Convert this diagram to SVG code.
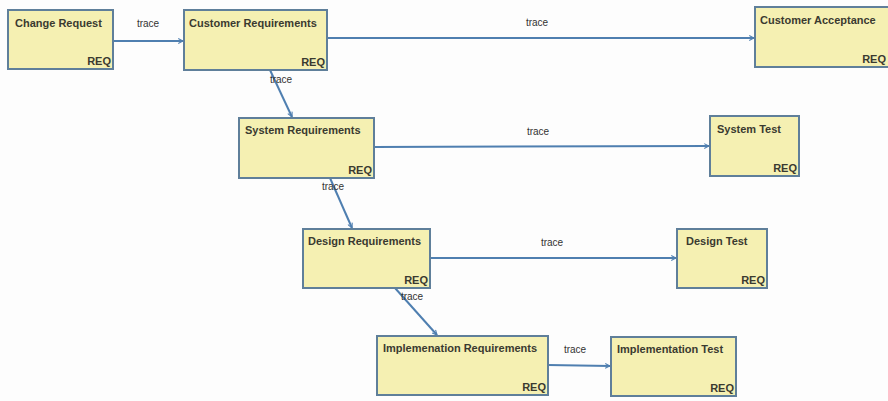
<svg xmlns="http://www.w3.org/2000/svg" width="888" height="401" viewBox="0 0 888 401">
<defs>
<style>
.box{fill:#f5f0b2;stroke:#5f7f9a;stroke-width:2}
.name{font-family:"Liberation Sans",Arial,sans-serif;font-size:11px;font-weight:bold;fill:#3a3a30}
.req{font-family:"Liberation Sans",Arial,sans-serif;font-size:11px;font-weight:bold;fill:#3a3a30;text-anchor:end}
.lbl{font-family:"Liberation Sans",Arial,sans-serif;font-size:10px;fill:#333;text-anchor:middle}
.con{fill:none;stroke:#4f7fb0;stroke-width:2;marker-end:url(#arr)}
</style>
<marker id="arr" viewBox="0 0 10 10" refX="9" refY="5" markerWidth="6" markerHeight="6" markerUnits="userSpaceOnUse" orient="auto">
<path d="M1,1 L9,5 L1,9" fill="none" stroke="#4f7fb0" stroke-width="1.8"/>
</marker>
</defs>
<rect width="888" height="401" fill="#fdfdfd"/>
<g id="connectors">
<line class="con" x1="113" y1="41" x2="183" y2="41"/>
<line class="con" x1="327" y1="38" x2="754" y2="38"/>
<line class="con" x1="270" y1="70" x2="292" y2="117"/>
<line class="con" x1="374" y1="147" x2="709" y2="146"/>
<line class="con" x1="330" y1="178" x2="352" y2="228"/>
<line class="con" x1="430" y1="258" x2="676" y2="258"/>
<line class="con" x1="395" y1="288" x2="437" y2="335"/>
<line class="con" x1="548" y1="365" x2="610" y2="366"/>
<text class="lbl" x="148" y="27">trace</text>
<text class="lbl" x="537" y="26">trace</text>
<text class="lbl" x="281" y="83">trace</text>
<text class="lbl" x="538" y="135">trace</text>
<text class="lbl" x="333" y="190">trace</text>
<text class="lbl" x="552" y="246">trace</text>
<text class="lbl" x="412" y="300">trace</text>
<text class="lbl" x="575" y="353">trace</text>
</g>
<g id="change-request">
<rect class="box" x="8" y="10" width="105" height="59"/>
<text class="name" x="15" y="27">Change Request</text>
<text class="req" x="111" y="65">REQ</text>
</g>
<g id="customer-requirements">
<rect class="box" x="184" y="10" width="143" height="60"/>
<text class="name" x="189" y="27">Customer Requirements</text>
<text class="req" x="325" y="66">REQ</text>
</g>
<g id="customer-acceptance">
<rect class="box" x="755" y="7" width="140" height="60"/>
<text class="name" x="760" y="24">Customer Acceptance</text>
<text class="req" x="886" y="63">REQ</text>
</g>
<g id="system-requirements">
<rect class="box" x="239" y="118" width="135" height="60"/>
<text class="name" x="245" y="134">System Requirements</text>
<text class="req" x="372" y="174">REQ</text>
</g>
<g id="system-test">
<rect class="box" x="710" y="116" width="89" height="60"/>
<text class="name" x="717" y="133">System Test</text>
<text class="req" x="797" y="172">REQ</text>
</g>
<g id="design-requirements">
<rect class="box" x="303" y="229" width="127" height="59"/>
<text class="name" x="308" y="245">Design Requirements</text>
<text class="req" x="428" y="284">REQ</text>
</g>
<g id="design-test">
<rect class="box" x="677" y="229" width="90" height="59"/>
<text class="name" x="686" y="245">Design Test</text>
<text class="req" x="765" y="284">REQ</text>
</g>
<g id="implementation-requirements">
<rect class="box" x="377" y="336" width="171" height="59"/>
<text class="name" x="383" y="352">Implemenation Requirements</text>
<text class="req" x="546" y="391">REQ</text>
</g>
<g id="implementation-test">
<rect class="box" x="611" y="337" width="125" height="59"/>
<text class="name" x="617" y="353">Implementation Test</text>
<text class="req" x="734" y="392">REQ</text>
</g>
</svg>
